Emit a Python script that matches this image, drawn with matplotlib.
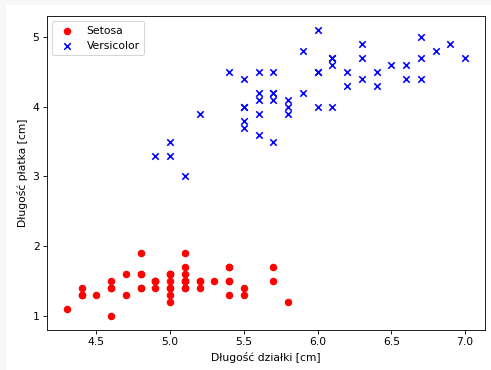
import matplotlib
matplotlib.use("Agg")
import matplotlib.pyplot as plt
from matplotlib.patches import Rectangle

# Iris: sepal length vs petal length, first 100 samples
setosa_sepal = [5.1, 4.9, 4.7, 4.6, 5.0, 5.4, 4.6, 5.0, 4.4, 4.9,
                5.4, 4.8, 4.8, 4.3, 5.8, 5.7, 5.4, 5.1, 5.7, 5.1,
                5.4, 5.1, 4.6, 5.1, 4.8, 5.0, 5.0, 5.2, 5.2, 4.7,
                4.8, 5.4, 5.2, 5.5, 4.9, 5.0, 5.5, 4.9, 4.4, 5.1,
                5.0, 4.5, 4.4, 5.0, 5.1, 4.8, 5.1, 4.6, 5.3, 5.0]
setosa_petal = [1.4, 1.4, 1.3, 1.5, 1.4, 1.7, 1.4, 1.5, 1.4, 1.5,
                1.5, 1.6, 1.4, 1.1, 1.2, 1.5, 1.3, 1.4, 1.7, 1.5,
                1.7, 1.5, 1.0, 1.7, 1.9, 1.6, 1.6, 1.5, 1.4, 1.6,
                1.6, 1.5, 1.5, 1.4, 1.5, 1.2, 1.3, 1.5, 1.3, 1.5,
                1.3, 1.3, 1.3, 1.6, 1.9, 1.4, 1.6, 1.4, 1.5, 1.4]
versicolor_sepal = [7.0, 6.4, 6.9, 5.5, 6.5, 5.7, 6.3, 4.9, 6.6, 5.2,
                    5.0, 5.9, 6.0, 6.1, 5.6, 6.7, 5.6, 5.8, 6.2, 5.6,
                    5.9, 6.1, 6.3, 6.1, 6.4, 6.6, 6.8, 6.7, 6.0, 5.7,
                    5.5, 5.5, 5.8, 6.0, 5.4, 6.0, 6.7, 6.3, 5.6, 5.5,
                    5.5, 6.1, 5.8, 5.0, 5.6, 5.7, 5.7, 6.2, 5.1, 5.7]
versicolor_petal = [4.7, 4.5, 4.9, 4.0, 4.6, 4.5, 4.7, 3.3, 4.6, 3.9,
                    3.5, 4.2, 4.0, 4.7, 3.6, 4.4, 4.5, 4.1, 4.5, 3.9,
                    4.8, 4.0, 4.9, 4.7, 4.3, 4.4, 4.8, 5.0, 4.5, 3.5,
                    3.8, 3.7, 3.9, 5.1, 4.5, 4.5, 4.7, 4.4, 4.1, 4.0,
                    4.4, 4.6, 4.0, 3.3, 4.2, 4.2, 4.2, 4.3, 3.0, 4.1]

fig = plt.figure(figsize=(491 / 77, 370 / 77), dpi=77, facecolor='white')
# thin grey margin on the left and top of the page
fig.patches.append(Rectangle((0, 0), 6 / 491, 1, transform=fig.transFigure,
                             facecolor='#f7f7f7', edgecolor='none'))
fig.patches.append(Rectangle((0, 1 - 5 / 370), 1, 5 / 370, transform=fig.transFigure,
                             facecolor='#f7f7f7', edgecolor='none'))
ax = fig.add_axes([47 / 491, 40 / 370, 438 / 491, 314 / 370])

ax.scatter(setosa_sepal, setosa_petal, color='red', marker='o', label='Setosa')
ax.scatter(versicolor_sepal, versicolor_petal, color='blue', marker='x', label='Versicolor')

ax.set_xlabel('Długość działki [cm]')
ax.set_ylabel('Długość płatka [cm]')
ax.legend(loc='upper left')

fig.savefig('out.png', dpi=77)
